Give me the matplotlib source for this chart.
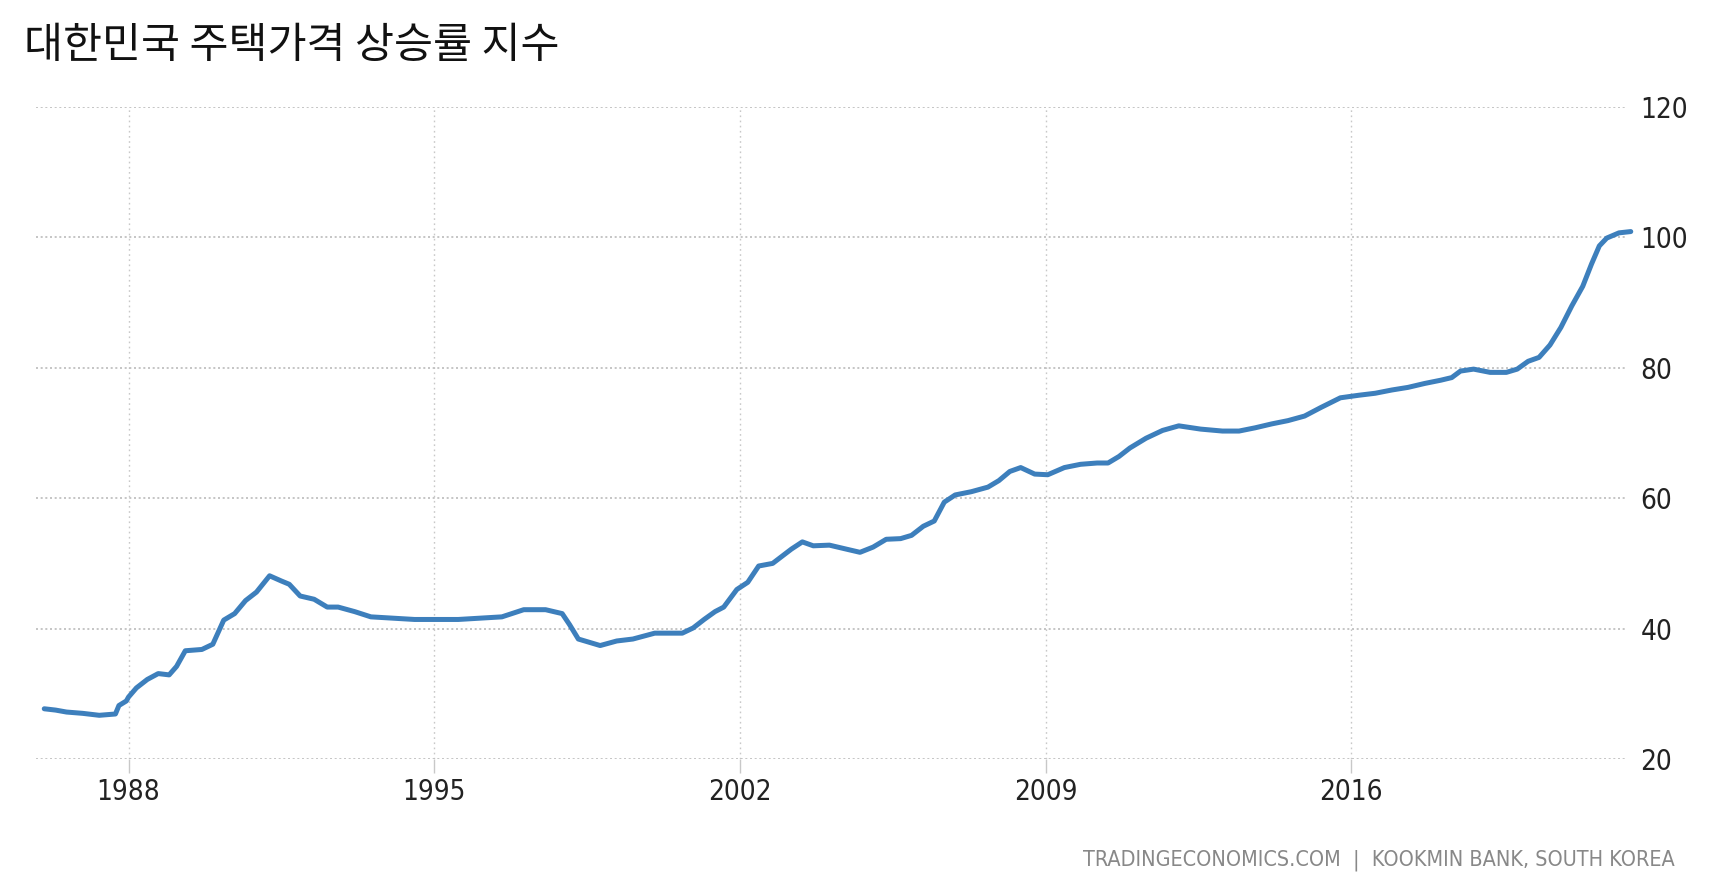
import matplotlib
matplotlib.use("Agg")
import matplotlib.pyplot as plt
from matplotlib import font_manager as fm

# ---- data ----
years = [1986.07, 1986.33, 1986.58, 1986.95, 1987.33, 1987.70, 1987.78, 1987.95, 1988.00,
         1988.18, 1988.43, 1988.68, 1988.93, 1989.10, 1989.30, 1989.68, 1989.93, 1990.18,
         1990.43, 1990.68, 1990.93, 1991.23, 1991.50, 1991.68, 1991.93, 1992.25, 1992.55,
         1992.80, 1993.18, 1993.55, 1994.05, 1994.55, 1995.00, 1995.55, 1996.05, 1996.55,
         1997.05, 1997.55, 1997.93, 1998.10, 1998.30, 1998.55, 1998.80, 1999.18, 1999.55,
         2000.05, 2000.43, 2000.68, 2000.93, 2001.18, 2001.43, 2001.63, 2001.93, 2002.18,
         2002.43, 2002.75, 2003.18, 2003.43, 2003.68, 2004.05, 2004.43, 2004.75, 2005.05,
         2005.35, 2005.68, 2005.93, 2006.20, 2006.45, 2006.68, 2006.93, 2007.30, 2007.68,
         2007.93, 2008.18, 2008.43, 2008.75, 2009.05, 2009.43, 2009.80, 2010.18, 2010.43,
         2010.68, 2010.93, 2011.30, 2011.68, 2012.05, 2012.55, 2013.05, 2013.43, 2013.80,
         2014.18, 2014.55, 2014.93, 2015.30, 2015.75, 2016.18, 2016.55, 2016.93, 2017.30,
         2017.68, 2018.05, 2018.30, 2018.50, 2018.80, 2019.18, 2019.55, 2019.80, 2020.05,
         2020.30, 2020.55, 2020.80, 2021.05, 2021.30, 2021.50, 2021.68, 2021.85, 2022.13,
         2022.40]
index = [27.7, 27.5, 27.2, 27.0, 26.7, 26.9, 28.2, 28.9, 29.5,
         30.9, 32.2, 33.1, 32.9, 34.2, 36.6, 36.8, 37.6, 41.3,
         42.3, 44.3, 45.6, 48.1, 47.3, 46.8, 45.0, 44.5, 43.3,
         43.3, 42.6, 41.8, 41.6, 41.4, 41.4, 41.4, 41.6, 41.8,
         42.9, 42.9, 42.3, 40.6, 38.4, 37.9, 37.4, 38.1, 38.4,
         39.3, 39.3, 39.3, 40.1, 41.4, 42.6, 43.3, 46.0, 47.1,
         49.6, 50.0, 52.2, 53.3, 52.7, 52.8, 52.2, 51.7, 52.5,
         53.7, 53.8, 54.3, 55.7, 56.5, 59.4, 60.5, 61.0, 61.7,
         62.7, 64.1, 64.7, 63.7, 63.6, 64.7, 65.2, 65.4, 65.4,
         66.4, 67.7, 69.2, 70.4, 71.1, 70.6, 70.3, 70.3, 70.8,
         71.4, 71.9, 72.6, 73.9, 75.4, 75.8, 76.1, 76.6, 77.0,
         77.6, 78.1, 78.5, 79.5, 79.8, 79.3, 79.3, 79.8, 81.0,
         81.6, 83.5, 86.2, 89.5, 92.5, 95.9, 98.7, 99.9, 100.7,
         100.9]
n = min(len(years), len(index))
years = years[:n]
index = index[:n]

xtick_years = [1988, 1995, 2002, 2009, 2016]
xtick_labels = ["1988", "1995", "2002", "2009", "2016"]
ytick_values = [20, 40, 60, 80, 100, 120]
title = "대한민국 주택가격 상승률 지수"
source = "TRADINGECONOMICS.COM  |  KOOKMIN BANK, SOUTH KOREA"

names = {f.name for f in fm.fontManager.ttflist}
narrow = "Liberation Sans Narrow" if "Liberation Sans Narrow" in names else "DejaVu Sans"

fig = plt.figure(figsize=(17.12, 8.81), dpi=100)
ax = fig.add_axes([0.021, 0.1385, 0.929, 0.74])

ax.plot(years, index, color="#3D7FBC", linewidth=3.6, solid_joinstyle="round",
        solid_capstyle="round", clip_on=False, zorder=3)

ax.set_xlim(1985.88, 2022.30)
ax.set_ylim(20, 120)
ax.set_xticks(xtick_years)
ax.set_xticklabels(xtick_labels)
ax.set_yticks(ytick_values)
ax.yaxis.tick_right()

for s in ax.spines.values():
    s.set_visible(False)

ax.grid(True, axis="y", color="#BBBBBB", linestyle=(0, (1.2, 1.6)), linewidth=1.2)
ax.grid(True, axis="x", color="#C8C8C8", linestyle=(0, (1.2, 2.5)), linewidth=1.0)

ax.tick_params(axis="x", length=10, width=1, color="#C8C8C8", pad=4,
               labelsize=20, labelcolor="#222222")
ax.tick_params(axis="y", length=0, pad=10, labelsize=20, labelcolor="#222222")
for lbl in ax.get_xticklabels() + ax.get_yticklabels():
    lbl.set_fontfamily(narrow)
    lbl.set_fontstretch("condensed")

fig.text(0.014, 0.948, title, fontsize=30.5, va="center", ha="left",
         family=["Noto Sans CJK KR", "DejaVu Sans"], color="#111111")
fig.text(0.978, 0.023, source, fontsize=15.5, va="center", ha="right",
         family=[narrow], fontstretch="condensed", color="#888888")

fig.savefig("out.png", dpi=100)
